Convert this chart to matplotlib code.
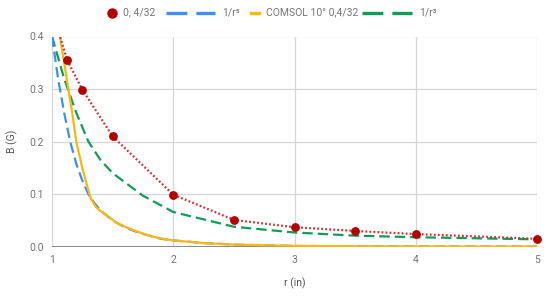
import matplotlib
matplotlib.use("Agg")
import matplotlib.pyplot as plt
from matplotlib.lines import Line2D

plt.rcParams['font.family'] = ['Roboto', 'DejaVu Sans']
plt.rcParams['lines.scale_dashes'] = False

# ---- data ----
meas_r = [1.0, 1.125, 1.25, 1.5, 2.0, 2.5, 3.0, 3.5, 4.0, 5.0]
meas_b = [0.45, 0.355, 0.299, 0.210, 0.099, 0.051, 0.037, 0.030, 0.024, 0.015]

r5_r = [1.0, 1.05, 1.1, 1.15, 1.2, 1.25, 1.3, 1.35, 1.4, 1.5, 1.6, 1.7, 1.8, 1.9, 2.0, 2.25, 2.5, 3.0, 3.5, 4.0, 5.0]
r5_b = [0.40, 0.32, 0.255, 0.20, 0.158, 0.126, 0.100, 0.083, 0.069, 0.050, 0.037, 0.028, 0.021, 0.015, 0.012, 0.007, 0.004, 0.0015, 0.0008, 0.0004, 0.0001]

comsol_r = [1.03, 1.066, 1.10, 1.135, 1.17, 1.20, 1.25, 1.29, 1.32, 1.36, 1.40, 1.46, 1.53, 1.60, 1.70, 1.80, 1.89, 2.0, 2.25, 2.5, 3.0, 3.5, 4.0, 5.0]
comsol_b = [0.46, 0.40, 0.35, 0.30, 0.25, 0.20, 0.15, 0.115, 0.092, 0.076, 0.068, 0.058, 0.046, 0.038, 0.029, 0.021, 0.016, 0.012, 0.007, 0.004, 0.0015, 0.0008, 0.0004, 0.0002]

r3_r = [1.0, 1.1, 1.2, 1.3, 1.4, 1.5, 1.75, 2.0, 2.5, 3.0, 3.5, 4.0, 4.5, 5.0]
r3_b = [0.40, 0.32, 0.255, 0.20, 0.165, 0.14, 0.097, 0.066, 0.038, 0.027, 0.021, 0.018, 0.016, 0.014]

x_ticks = [1, 2, 3, 4, 5]
y_ticks = [0.0, 0.1, 0.2, 0.3, 0.4]
y_tick_labels = ['0.0', '0.1', '0.2', '0.3', '0.4']

labels = ['0, 4/32', '1/r\u2075', 'COMSOL 10\u00b0 0,4/32', '1/r\u00b3']
x_label = 'r (in)'
y_label = 'B (G)'

# ---- colors ----
c_red_line = '#d32f2f'
c_red_dot = '#b30000'
c_blue = '#3d8ff0'
c_orange = '#fbb710'
c_green = '#0f9d58'
c_text = '#757575'

W, H = 550, 301
fig = plt.figure(figsize=(W / 100, H / 100), dpi=100)
x0, x1 = 52, 537
ytop, ybot = 36.5, 246.7
ax = fig.add_axes([x0 / W, 1 - ybot / H, (x1 - x0) / W, (ybot - ytop) / H])

ax.set_xlim(1, 5)
ax.set_ylim(0, 0.4)
for s in ax.spines.values():
    s.set_visible(False)
ax.set_xticks(x_ticks)
ax.set_yticks(y_ticks)
ax.set_yticklabels(y_tick_labels)
ax.tick_params(length=0, labelsize=7.5, labelcolor=c_text, pad=6)
ax.grid(True, color='#d6d6d6', linewidth=0.9)
ax.set_axisbelow(True)
ax.axhline(0, color='#8c8c8c', linewidth=2.2, zorder=1)

ax.plot(r3_r, r3_b, color=c_green, linewidth=1.6, dashes=(7.5, 3.6), zorder=3)
ax.plot(r5_r, r5_b, color=c_blue, linewidth=1.6, dashes=(7.5, 3.6), zorder=3)
ax.plot(comsol_r, comsol_b, color=c_orange, linewidth=1.6, zorder=4)
ax.plot(meas_r, meas_b, color=c_red_line, linewidth=1.6, dashes=(1.3, 1.6), zorder=5)
ax.plot(meas_r[1:], meas_b[1:], linestyle='none', marker='o', markersize=5.3,
        color=c_red_dot, clip_on=False, zorder=6)

def px(x):
    return x / W

def py(y):
    return 1 - y / H

fig.text(px(294.5), py(283), x_label, fontsize=7.5, color='#555555', ha='center', va='center')
fig.text(px(12), py(141), y_label, fontsize=7.5, color='#555555', ha='center', va='center', rotation=90)

# ---- legend (manual, in pixel coords) ----
ly = py(12.5)
fig.add_artist(Line2D([px(112)], [ly], marker='o', markersize=6.5, color=c_red_dot, linestyle='none'))
fig.text(px(123), ly, labels[0], fontsize=7.5, color=c_text, va='center', ha='left')
fig.add_artist(Line2D([px(166), px(215)], [ly, ly], color=c_blue, linewidth=2.4, dashes=(15, 6.5)))
fig.text(px(222), ly, labels[1], fontsize=7.5, color=c_text, va='center', ha='left')
fig.add_artist(Line2D([px(251), px(259)], [ly, ly], color=c_orange, linewidth=2.4))
fig.text(px(266), ly, labels[2], fontsize=7.5, color=c_text, va='center', ha='left')
fig.add_artist(Line2D([px(362), px(412)], [ly, ly], color=c_green, linewidth=2.4, dashes=(15, 6.5)))
fig.text(px(419), ly, labels[3], fontsize=7.5, color=c_text, va='center', ha='left')

fig.savefig('out.png', dpi=100)
